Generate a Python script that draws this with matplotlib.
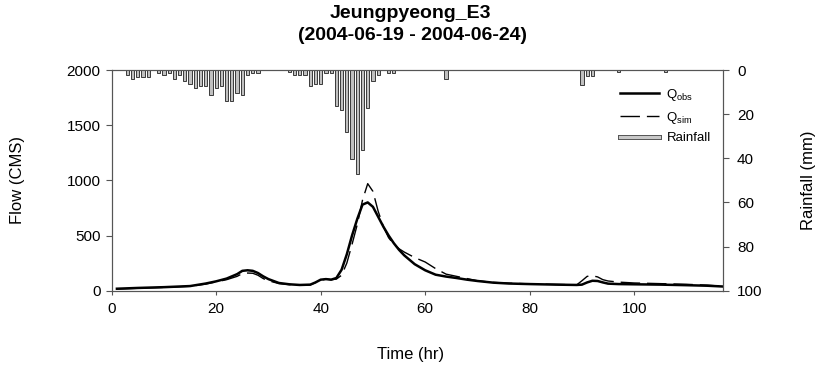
import matplotlib
matplotlib.use("Agg")
import matplotlib.pyplot as plt
from matplotlib.lines import Line2D
import matplotlib.patheffects as pe

plt.rcParams['font.family'] = ['Liberation Sans', 'DejaVu Sans']
plt.rcParams['mathtext.fontset'] = 'custom'
plt.rcParams['mathtext.rm'] = 'Liberation Sans'
plt.rcParams['mathtext.it'] = 'Liberation Sans'

# ---- data ----
obs_hours = [1, 5, 10, 15, 18, 20, 22, 24, 25, 26, 27, 28, 29, 30, 32, 34, 36, 38, 39, 40,
             41, 42, 43, 44, 45, 46, 47, 48, 49, 50, 51, 52, 53, 54, 55, 56, 57, 58, 60, 62,
             64, 66, 68, 70, 73, 76, 80, 85, 89, 90, 91, 92, 93, 94, 95, 97, 100, 105, 110,
             114, 117]
q_obs = [18, 25, 32, 42, 65, 85, 110, 150, 180, 185, 180, 160, 130, 105, 70, 58, 52, 55, 75, 100,
         105, 100, 115, 190, 330, 500, 650, 780, 800, 760, 670, 580, 500, 430, 370, 320, 280, 240, 185, 145,
         128, 115, 100, 88, 73, 65, 60, 55, 52, 55, 75, 90, 88, 75, 64, 60, 58, 55, 50,
         45, 38]

sim_hours = [1, 5, 10, 15, 18, 20, 22, 24, 25, 26, 27, 28, 29, 30, 32, 34, 36, 38, 40, 41,
             42, 43, 44, 45, 46, 47, 48, 49, 50, 51, 52, 53, 54, 55, 56, 58, 60, 62, 64, 66,
             68, 70, 73, 76, 80, 85, 89, 90, 91, 92, 93, 94, 95, 97, 100, 105, 110, 114, 117]
q_sim = [15, 22, 30, 40, 60, 80, 100, 130, 155, 160, 158, 140, 110, 90, 65, 55, 50, 52, 95, 105,
         100, 105, 140, 250, 420, 600, 820, 970, 900, 720, 580, 480, 420, 380, 350, 300, 260, 200, 150, 130,
         110, 90, 75, 68, 62, 57, 53, 90, 130, 135, 125, 100, 88, 78, 70, 64, 58, 50, 40]

rain_hours = [3, 4, 5, 6, 7, 9, 10, 11, 12, 13, 14, 15, 16, 17, 18, 19, 20, 21, 22, 23, 24, 25,
              26, 27, 28, 34, 35, 36, 37, 38, 39, 40, 41, 42, 43, 44, 45, 46, 47, 48, 49, 50,
              51, 53, 54, 64, 90, 91, 92, 97, 106]
rain_mm = [2.1, 4.1, 3.0, 3.0, 3.0, 1.5, 2.3, 1.2, 4.1, 2.1, 4.8, 6.4, 8.2, 7.1, 7.1, 11.4, 8.2,
           7.1, 14.2, 14.2, 10.6, 11.2, 2.1, 1.4, 1.4, 1.1, 2.3, 2.3, 2.3, 7.1, 6.4, 6.4, 1.4,
           1.4, 16.2, 18.2, 28.0, 40.1, 47.3, 36.4, 17.3, 5.2, 2.3, 1.4, 1.4, 4.1, 6.7, 2.6,
           2.6, 1.1, 1.1]

x_ticks = [0, 20, 40, 60, 80, 100]
flow_ticks = [0, 500, 1000, 1500, 2000]
rain_ticks = [0, 20, 40, 60, 80, 100]

W, H = 818, 368
fig = plt.figure(figsize=(W / 100, H / 100), dpi=100)
left, right, top, bottom = 111.7, 723, 70, 290.7
ax = fig.add_axes([left / W, 1 - bottom / H, (right - left) / W, (bottom - top) / H])
ax2 = ax.twinx()

spine_c = '#555555'
# rainfall
ax2.bar(rain_hours, rain_mm, width=0.62, color='#c0c0c0', edgecolor='#3a3a3a', linewidth=0.7)
ax2.set_ylim(100, 0)
ax2.set_yticks(rain_ticks)

# flows
l_obs, = ax.plot(obs_hours, q_obs, color='black', lw=1.8, solid_joinstyle='round')
l_sim, = ax.plot(sim_hours, q_sim, color='black', lw=1.0, dashes=(14, 5))
ax.set_xlim(0, 117)
ax.set_ylim(0, 2000)
ax.set_xticks(x_ticks)
ax.set_yticks(flow_ticks)

for a in (ax, ax2):
    for s in a.spines.values():
        s.set_color(spine_c)
        s.set_linewidth(0.8)
    a.tick_params(colors=spine_c, labelcolor='black', labelsize=11, length=4, width=0.8)
ax.tick_params(axis='x', length=3, pad=5)
ax.tick_params(axis='y', pad=4)
ax2.tick_params(axis='y', pad=6)

# legend
rain_handle = Line2D([], [], color='#c8c8c8', lw=2.2,
                     path_effects=[pe.Stroke(linewidth=3.6, foreground='#555555'), pe.Normal()])
ax.legend([l_obs, l_sim, rain_handle],
          [r'$\mathrm{Q_{obs}}$', r'$\mathrm{Q_{sim}}$', 'Rainfall'],
          loc='upper right', bbox_to_anchor=(0.995, 0.965), frameon=False, fontsize=9.5,
          handlelength=2.9, labelspacing=0.5, handletextpad=0.6, borderaxespad=0.3)

fig.text(410 / W, 1 - 14 / H, 'Jeungpyeong_E3', ha='center', va='center',
         fontsize=14, fontweight='bold')
fig.text(412 / W, 1 - 36 / H, '(2004-06-19 - 2004-06-24)', ha='center', va='center',
         fontsize=14, fontweight='bold')
fig.text(18 / W, 1 - 180 / H, 'Flow (CMS)', rotation=90, ha='center', va='center', fontsize=12)
fig.text(808 / W, 1 - 180 / H, 'Rainfall (mm)', rotation=90, ha='center', va='center', fontsize=12)
fig.text(411 / W, 1 - 355 / H, 'Time (hr)', ha='center', va='center', fontsize=12)

fig.savefig('out.png', dpi=100)
